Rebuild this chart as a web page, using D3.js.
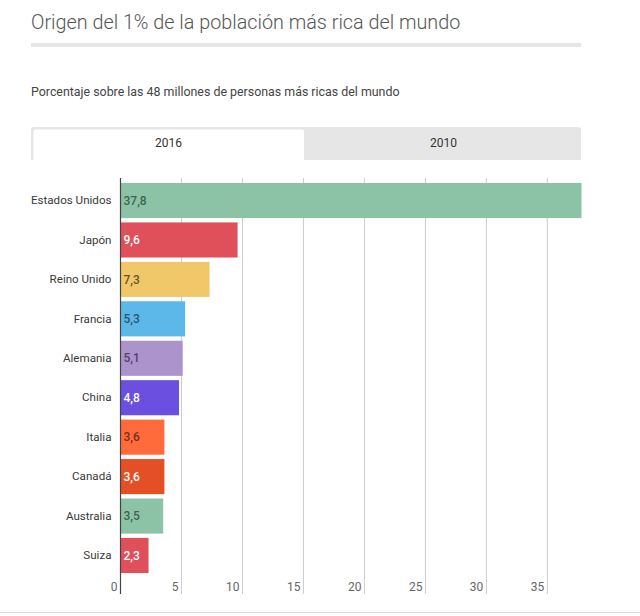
<!DOCTYPE html>
<html><head><meta charset="utf-8">
<script src="https://cdn.jsdelivr.net/npm/d3@7"></script>
<style>
html,body{margin:0;padding:0;background:#fff;}
svg{display:block;font-family:Roboto,"Open Sans",sans-serif;}
</style></head>
<body>
<svg id="chart" width="640" height="616"></svg>
<script>
const countries = ["Estados Unidos","Japón","Reino Unido","Francia","Alemania","China","Italia","Canadá","Australia","Suiza"];
const values = [37.8, 9.6, 7.3, 5.3, 5.1, 4.8, 3.6, 3.6, 3.5, 2.3];
const barColors = ["#8cc3a6","#e0505a","#f0c869","#5cb8e8","#ab93cc","#6a4fe0","#ff6b3b","#e44f26","#8cc3a6","#e0505a"];
const labelColors = ["#3d6352","#ffffff","#6b5324","#2a5470","#52406a","#ffffff","#7a2e18","#ffffff","#3d6352","#ffffff"];
const xTicks = [0,5,10,15,20,25,30,35];
const tabs = ["2016","2010"];

const svg = d3.select("#chart");

// Title
svg.append("text").attr("x",31).attr("y",28.5)
  .attr("font-size",19.8).attr("font-weight",300).attr("fill","#555")
  .text("Origen del 1% de la población más rica del mundo");
svg.append("rect").attr("x",31).attr("y",43).attr("width",550).attr("height",4).attr("fill","#e6e6e6");

// Subtitle
svg.append("text").attr("x",31).attr("y",96)
  .attr("font-size",12.4).attr("fill","#444")
  .text("Porcentaje sobre las 48 millones de personas más ricas del mundo");

// Tabs
svg.append("path").attr("d","M31,160 V130 Q31,127 34,127 H578 Q581,127 581,130 V160 Z").attr("fill","#e6e6e6");
svg.append("path").attr("d","M33.5,160 V131.5 Q33.5,129.5 35.5,129.5 H302 Q304,129.5 304,131.5 V160 Z").attr("fill","#fff");
const tabX = d3.scaleBand().domain(tabs).range([31,581]);
svg.selectAll("text.tab").data(tabs).join("text").attr("class","tab")
  .attr("x",d=>tabX(d)+tabX.bandwidth()/2).attr("y",147)
  .attr("text-anchor","middle").attr("font-size",12).attr("fill","#333")
  .text(d=>d);

// Scales
const x = d3.scaleLinear().domain([0,37.8]).range([120.5,581.5]);
const y = d3.scaleBand().domain(countries).range([181,575]).paddingInner(0.11).paddingOuter(0.05);

// Gridlines
svg.append("g").selectAll("line").data(xTicks.filter(d=>d>0)).join("line")
  .attr("x1",d=>x(d)).attr("x2",d=>x(d)).attr("y1",178).attr("y2",594)
  .attr("stroke","#cccccc").attr("stroke-width",1);

// Bars
svg.append("g").selectAll("rect").data(values).join("rect")
  .attr("x",x(0)).attr("y",(d,i)=>y(countries[i]))
  .attr("width",d=>x(d)-x(0)).attr("height",y.bandwidth())
  .attr("fill",(d,i)=>barColors[i]);

// Value labels
svg.append("g").selectAll("text").data(values).join("text")
  .attr("x",x(0)+3).attr("y",(d,i)=>y(countries[i])+y.bandwidth()/2)
  .attr("dy","0.35em").attr("font-size",12).attr("font-weight",500)
  .attr("fill",(d,i)=>labelColors[i])
  .text(d=>d3.format(".1f")(d).replace(".",","));

// Category axis
const yAxis = svg.append("g").attr("transform",`translate(${x(0)},0)`)
  .call(d3.axisLeft(y).tickSize(0).tickPadding(9));
yAxis.select(".domain").remove();
yAxis.selectAll("text").attr("font-size",11.6).attr("fill","#3a3a3a").attr("font-family","Roboto,sans-serif");

// Axis line
svg.append("line").attr("x1",x(0)).attr("x2",x(0)).attr("y1",178).attr("y2",594)
  .attr("stroke","#444").attr("stroke-width",1.2);

// Tick labels
svg.append("g").selectAll("text").data(xTicks).join("text")
  .attr("x",d=>x(d)-3).attr("y",591).attr("text-anchor","end")
  .attr("font-size",12).attr("fill","#666").text(d=>d);

// bottom border
svg.append("rect").attr("x",0).attr("y",612).attr("width",640).attr("height",1).attr("fill","#dddddd");
</script>
</body></html>
